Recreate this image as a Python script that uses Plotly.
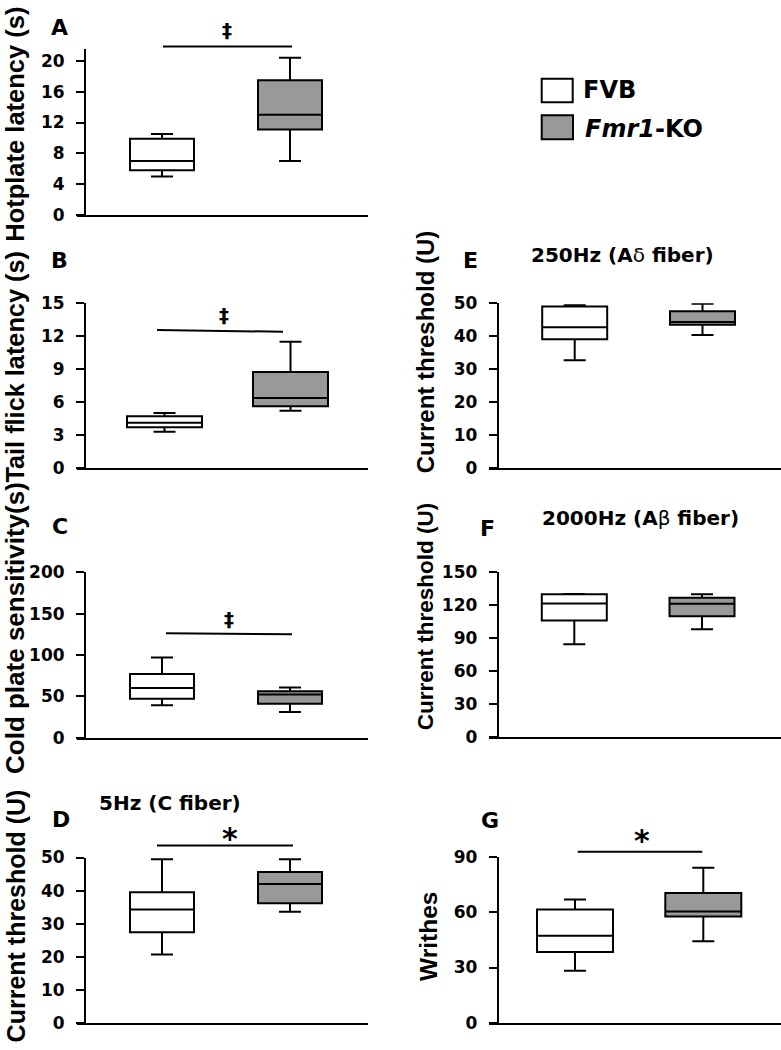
import plotly.graph_objects as go

# ---------------- data (box stats: lower whisker, q1, median, q3, upper whisker) ----------------
groups = ["FVB", "Fmr1-KO"]

hotplate_fvb = [5.0, 5.8, 7.0, 9.9, 10.5]
hotplate_ko = [7.0, 11.1, 13.0, 17.5, 20.4]

tailflick_fvb = [3.3, 3.7, 4.1, 4.7, 5.0]
tailflick_ko = [5.2, 5.6, 6.35, 8.7, 11.45]

coldplate_fvb = [39, 47, 60, 77, 97]
coldplate_ko = [31, 41, 52, 56, 60.5]

cfiber_fvb = [20.7, 27.4, 34.3, 39.5, 49.5]
cfiber_ko = [33.6, 36.2, 42.0, 45.6, 49.5]

adelta_fvb = [32.7, 39.1, 42.7, 49.0, 49.4]
adelta_ko = [40.4, 43.5, 44.3, 47.6, 49.9]

abeta_fvb = [84.0, 105.7, 121.2, 129.5, 129.7]
abeta_ko = [97.7, 109.6, 121.0, 126.3, 129.5]

writhes_fvb = [28.3, 38.4, 47.3, 61.5, 67.0]
writhes_ko = [44.3, 57.7, 60.5, 70.5, 84.3]

# tick labels
ticks_hot = [0, 4, 8, 12, 16, 20]
ticks_tail = [0, 3, 6, 9, 12, 15]
ticks_cold = [0, 50, 100, 150, 200]
ticks_c = [0, 10, 20, 30, 40, 50]
ticks_ad = [0, 10, 20, 30, 40, 50]
ticks_ab = [0, 30, 60, 90, 120, 150]
ticks_wr = [0, 30, 60, 90]

# axis tops
ymax = {"A": 21.6, "B": 15, "C": 200, "D": 50, "E": 50, "F": 150, "G": 90}

# significance marks
sig_symbols = {"A": "‡", "B": "‡", "C": "‡", "D": "*", "G": "*"}

# ---------------- layout / style ----------------
W, H = 781, 1050
def px(x):
    return x / W
def py(y):
    return 1 - y / H

FILL = {"FVB": "white", "Fmr1-KO": "#999999"}
TICKFONT = dict(family="DejaVu Sans", size=17, color="black", weight="bold")
ARIAL = "Liberation Sans, Arial"
DEJAVU = "DejaVu Sans"

panels = [
    dict(key="A", data=(hotplate_fvb, hotplate_ko), ticks=ticks_hot, xpx=(77, 368), ypos=85,
         ypx=(209, 39.3), centers=(162, 290), boxpx=64,
         ytitle="Hotplate latency (s)", yt_pos=(15, 117), yt_size=25.5, letter_pos=(60, 17.5),
         sig=dict(x0=163, x1=292, y0=37.3, y1=37.3, sx=227, sy=20)),
    dict(key="B", data=(tailflick_fvb, tailflick_ko), ticks=ticks_tail, xpx=(77, 368), ypos=85,
         ypx=(467, 298.3), centers=(164.5, 290.5), boxpx=75,
         ytitle="Tail flick latency (s)", yt_pos=(15, 363.5), yt_size=25.3, letter_pos=(60, 255),
         sig=dict(x0=157, x1=283, y0=326.3, y1=328, sx=224, sy=310.5)),
    dict(key="C", data=(coldplate_fvb, coldplate_ko), ticks=ticks_cold, xpx=(77, 368), ypos=85,
         ypx=(741.7, 573.3), centers=(162, 290), boxpx=64,
         ytitle="Cold plate sensitivity(s)", yt_pos=(15, 630), yt_size=26, letter_pos=(60, 527),
         sig=dict(x0=166, x1=292, y0=635.3, y1=636.3, sx=229, sy=620.5)),
    dict(key="D", data=(cfiber_fvb, cfiber_ko), ticks=ticks_c, xpx=(77, 368), ypos=85,
         ypx=(1032.7, 864), centers=(162, 290), boxpx=64,
         ytitle="Current threshold (U)", yt_pos=(16, 924), yt_size=25, letter_pos=(61, 825),
         title="5Hz (C fiber)", title_pos=(169.5, 808),
         sig=dict(x0=157, x1=293, y0=851.7, y1=851.7, sx=230, sy=845)),
    dict(key="E", data=(adelta_fvb, adelta_ko), ticks=ticks_ad, xpx=(489, 781), ypos=497.7,
         ypx=(467, 299), centers=(574.7, 702.5), boxpx=65,
         ytitle="Current threshold (U)", yt_pos=(425, 349), yt_size=24, letter_pos=(470, 255),
         title="250Hz (A<span style='font-weight:normal'>δ</span> fiber)", title_pos=(622.5, 250)),
    dict(key="F", data=(abeta_fvb, abeta_ko), ticks=ticks_ab, xpx=(489, 781), ypos=497.7,
         ypx=(740.7, 572.7), centers=(574.3, 702), boxpx=65,
         ytitle="Current threshold (U)", yt_pos=(425, 618), yt_size=22.5, letter_pos=(488, 529),
         title="2000Hz (A<span style='font-weight:normal'>β</span> fiber)", title_pos=(640.5, 518)),
    dict(key="G", data=(writhes_fvb, writhes_ko), ticks=ticks_wr, xpx=(489, 781), ypos=497.7,
         ypx=(1032.3, 863.7), centers=(575, 703.3), boxpx=76,
         ytitle="Writhes", yt_pos=(428, 945), yt_size=24.5, letter_pos=(490, 826),
         sig=dict(x0=577.7, x1=702.3, y0=858, y1=858, sx=641.5, sy=847)),
]

fig = go.Figure()
annotations = []
shapes = []
layout_axes = {}

for i, p in enumerate(panels):
    n = i + 1
    xa = "x" if n == 1 else f"x{n}"
    ya = "y" if n == 1 else f"y{n}"
    c0, c1 = p["centers"]
    s = c1 - c0
    L, R = p["xpx"]
    xr = [(L - c0) / s, (R - c0) / s]
    bw = p["boxpx"] / s
    ww = 22.0 / p["boxpx"]
    for g, stats in zip(groups, p["data"]):
        lo, q1, med, q3, hi = stats
        fig.add_trace(go.Box(
            x=[g], q1=[q1], median=[med], q3=[q3], lowerfence=[lo], upperfence=[hi],
            fillcolor=FILL[g], line=dict(color="black", width=2),
            width=bw, whiskerwidth=ww, boxpoints=False, showlegend=False,
            xaxis=xa, yaxis=ya, name=g,
        ))
    ybot, ytop = p["ypx"]
    layout_axes["xaxis" if n == 1 else f"xaxis{n}"] = dict(
        domain=[px(L), px(R)], anchor=ya, type="category", categoryorder="array",
        categoryarray=groups, range=xr, showline=True, linecolor="black", linewidth=2,
        showticklabels=False, ticks="", showgrid=False, zeroline=False, fixedrange=True,
    )
    layout_axes["yaxis" if n == 1 else f"yaxis{n}"] = dict(
        domain=[py(ybot), py(ytop)], anchor="free", position=px(p["ypos"]),
        range=[0, ymax[p["key"]]], tickmode="array", tickvals=p["ticks"],
        ticktext=[str(t) for t in p["ticks"]],
        showline=True, linecolor="black", linewidth=2, ticks="outside", ticklen=8,
        tickwidth=2, tickcolor="black", tickfont=TICKFONT, showgrid=False, zeroline=False,
        ticklabelstandoff=8, fixedrange=True,
    )
    # y title
    annotations.append(dict(
        text=p["ytitle"], x=px(p["yt_pos"][0]), y=py(p["yt_pos"][1]), xref="paper", yref="paper",
        textangle=-90, showarrow=False, xanchor="center", yanchor="middle",
        font=dict(family=ARIAL, size=p["yt_size"], color="black", weight="bold"),
    ))
    # panel letter
    annotations.append(dict(
        text=p["key"], x=px(p["letter_pos"][0]), y=py(p["letter_pos"][1]), xref="paper", yref="paper",
        showarrow=False, xanchor="center", yanchor="middle",
        font=dict(family=DEJAVU, size=22, color="black", weight="bold"),
    ))
    if "title" in p:
        annotations.append(dict(
            text=p["title"], x=px(p["title_pos"][0]), y=py(p["title_pos"][1]), xref="paper", yref="paper",
            showarrow=False, xanchor="center", yanchor="middle",
            font=dict(family=DEJAVU, size=20, color="black", weight="bold"),
        ))
    if "sig" in p:
        sg = p["sig"]
        shapes.append(dict(type="line", xref="paper", yref="paper",
                           x0=px(sg["x0"]), x1=px(sg["x1"]), y0=py(sg["y0"]), y1=py(sg["y1"]),
                           line=dict(color="black", width=2)))
        sym = sig_symbols[p["key"]]
        annotations.append(dict(
            text=sym, x=px(sg["sx"]), y=py(sg["sy"]), xref="paper", yref="paper",
            showarrow=False, xanchor="center", yanchor="middle",
            font=dict(family=DEJAVU, size=20 if sym == "‡" else 30, color="black", weight="bold"),
        ))

# legend (drawn)
legend_items = [("FVB", "FVB", (541.7, 70, 572.7, 94), (581, 82)),
                ("Fmr1-KO", "<i>Fmr1</i>-KO", (541.7, 107.3, 573, 131.7), (583, 121))]
for g, label, (x0, y0, x1, y1), (tx, ty) in legend_items:
    shapes.append(dict(type="rect", xref="paper", yref="paper", x0=px(x0), x1=px(x1),
                       y0=py(y1), y1=py(y0), fillcolor=FILL[g], line=dict(color="black", width=2)))
    annotations.append(dict(text=label, x=px(tx), y=py(ty), xref="paper", yref="paper",
                            showarrow=False, xanchor="left", yanchor="middle",
                            font=dict(family=DEJAVU, size=24, color="black", weight="bold")))

fig.update_layout(
    width=W, height=H, margin=dict(l=0, r=0, t=0, b=0),
    paper_bgcolor="white", plot_bgcolor="white", showlegend=False,
    annotations=annotations, shapes=shapes, **layout_axes,
)

fig.write_html("out.html", config={"displayModeBar": False},
               post_script="document.body.style.margin='0';document.body.style.overflow='hidden';")
